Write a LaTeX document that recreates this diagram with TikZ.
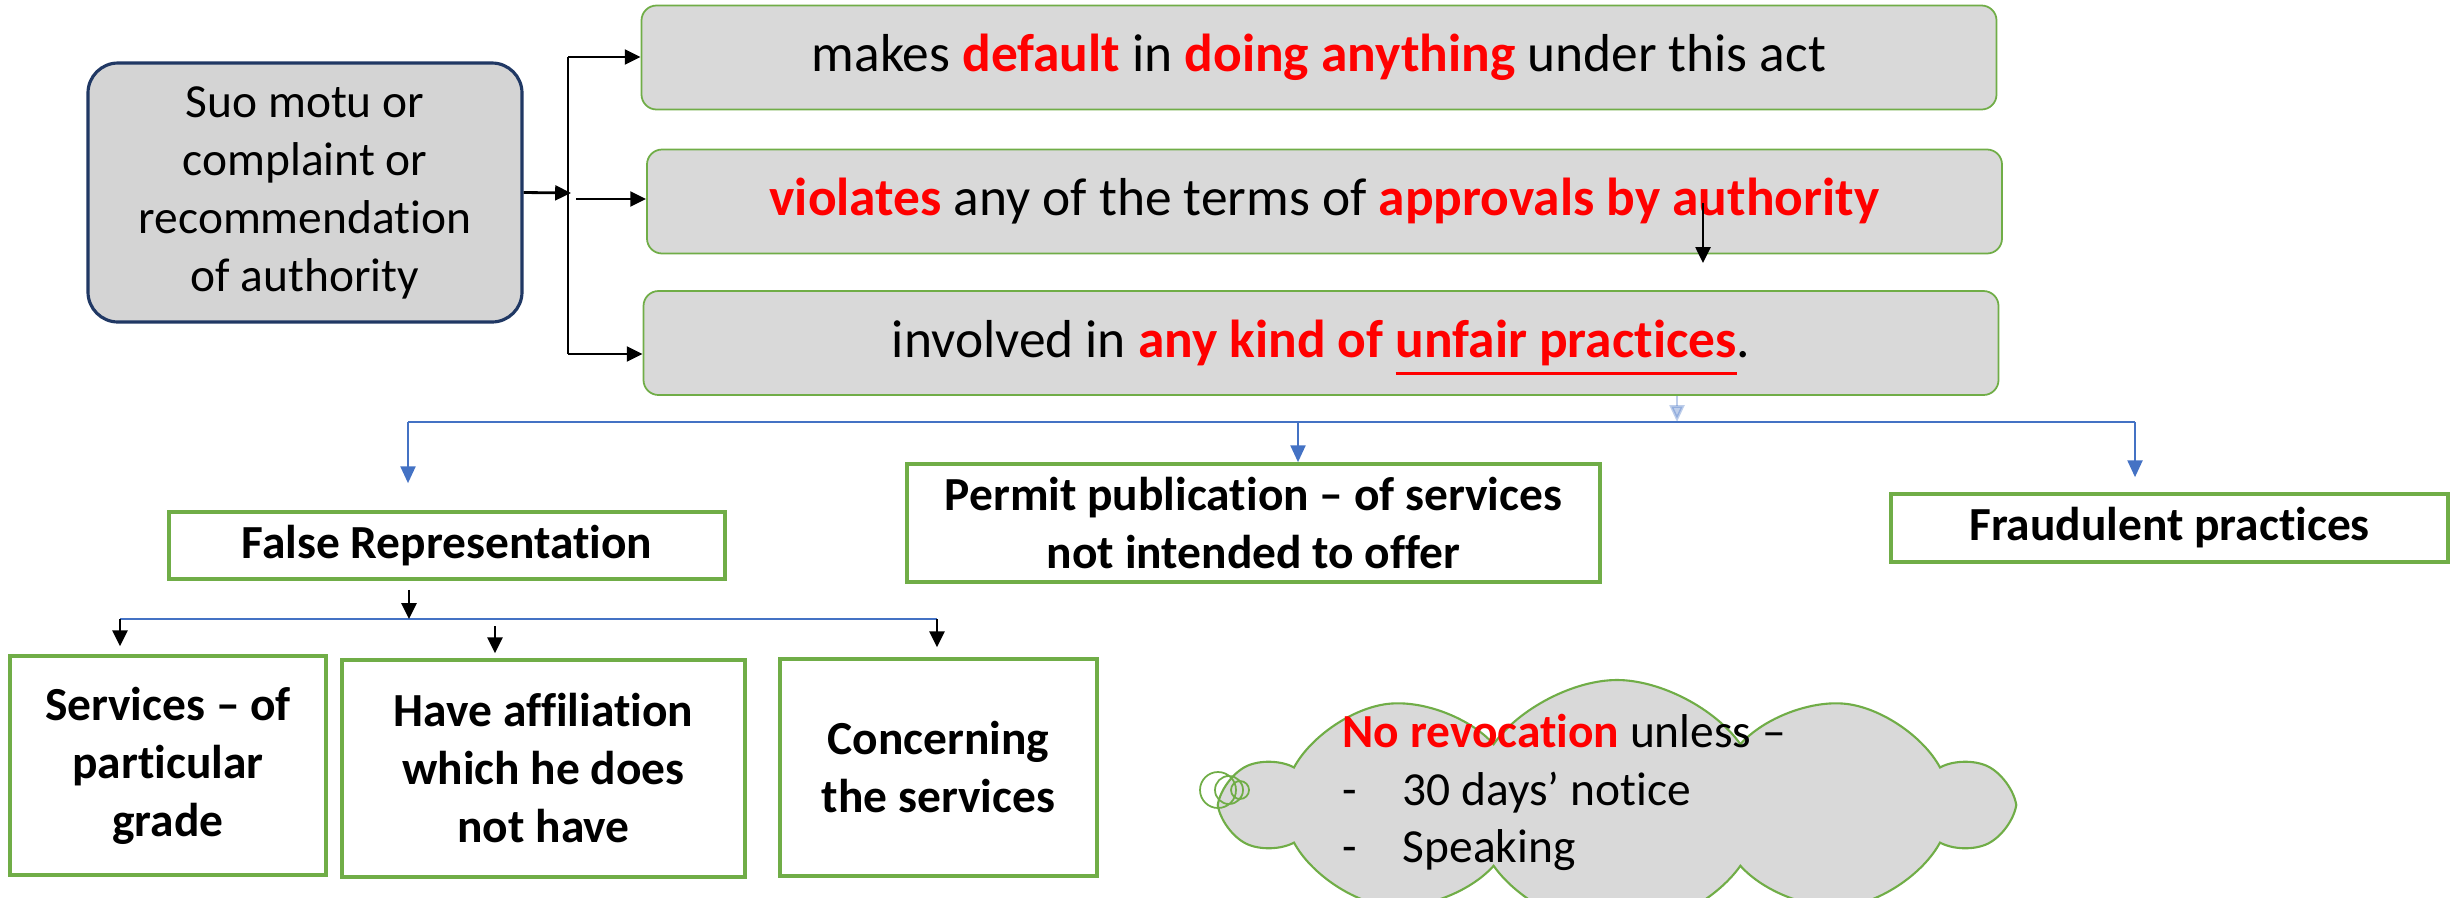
\documentclass[tikz,border=0pt]{standalone}
\usepackage{fontspec}
\setmainfont{Carlito}[Ligatures={TeX,NoCommon}]
\usetikzlibrary{arrows.meta,shapes.symbols,positioning}
\definecolor{Navy}{RGB}{32,56,100}
\definecolor{Leaf}{RGB}{112,173,71}
\definecolor{BoxGray}{RGB}{217,217,217}
\definecolor{SrcGray}{RGB}{212,212,212}
\definecolor{LinkBlue}{RGB}{68,114,196}
\definecolor{Alert}{RGB}{255,0,0}
\newcommand{\keyw}[1]{\textcolor{Alert}{\textbf{#1}}}
\newcommand{\uthick}[1]{\smash{\vtop{\hbox{#1}\kern1.6pt\hrule height .9pt}}}
\newcommand{\basefont}{\fontsize{13.5}{16.5}\selectfont}
\tikzset{
  srcbox/.style={rectangle,rounded corners=.3cm,draw=Navy,fill=SrcGray,
                 line width=.9pt,align=center,minimum width=4.34cm,minimum height=2.59cm},
  actbox/.style={rectangle,rounded corners=.15cm,draw=Leaf,fill=BoxGray,
                 font=\fontsize{15.2}{18}\selectfont,
                 line width=.5pt,minimum width=13.55cm,minimum height=1.04cm},
  kindbox/.style={rectangle,draw=Leaf,fill=white,line width=1pt,
                  font=\basefont\bfseries,align=center,inner sep=2pt},
  tedge/.style={-{Triangle[length=4.5pt,width=4.2pt]},black,line width=.8pt},
  bedge/.style={-{Triangle[length=4.8pt,width=4.2pt]},LinkBlue,line width=.8pt},
  bus/.style={LinkBlue,line width=.8pt},
}
\begin{document}
\begin{tikzpicture}[font=\basefont]
\useasboundingbox (0,0) rectangle (24.5,-8.97);

% who starts it
\node[srcbox] (src) at (3.05,-1.925) {Suo motu or\\complaint or\\recommendation\\of authority};

% grounds
\node[actbox] (dflt) at (13.19,-0.575) {makes \keyw{default} in \keyw{doing anything} under this act};
\node[actbox] (viol) at (13.245,-2.015) {\keyw{violates} any of the terms of \keyw{approvals by authority}};
\node[actbox] (unfr) at (13.21,-3.43) {involved in \keyw{any kind of \uthick{unfair practices}}.};

% bracket
\coordinate (jtop) at (5.68,-0.57);
\coordinate (jbot) at (5.68,-3.54);
\coordinate (jin) at (5.71,-1.93);
\coordinate (jmid) at (5.76,-1.99);
\draw[tedge] (src.east) -- (jin);
\draw[line width=.8pt] (jtop) -- (jbot);
\draw[tedge] (jtop) -- (jtop -| dflt.west);
\draw[tedge] (jmid) -- (jmid -| viol.west);
\draw[tedge] (jbot) -- (jbot -| unfr.west);

\coordinate (vs) at (17.03,-2.03);
\coordinate (ve) at (17.03,-2.63);
\draw[tedge] (vs) -- (ve);

% kinds of unfair practice
\node[kindbox,minimum width=5.56cm,minimum height=.67cm] (fals) at (4.47,-5.455) {False Representation};
\node[kindbox,minimum width=6.93cm,minimum height=1.18cm] (perm) at (12.535,-5.23) {Permit publication – of services\\not intended to offer};
\node[kindbox,minimum width=5.57cm,minimum height=.68cm] (frau) at (21.695,-5.28) {Fraudulent practices};

\coordinate (busl) at (4.08,-4.22);
\coordinate (busm) at (12.98,-4.22);
\coordinate (busf) at (16.77,-4.22);
\coordinate (busr) at (21.35,-4.22);
\draw[bus] (busl) -- (busr);
\draw[bedge,opacity=.35] (busf |- unfr.south) -- (busf);
\draw[bedge,shorten >=.27cm] (busl) -- (busl |- fals.north);
\draw[bedge] (busm) -- (busm |- perm.north);
\draw[bedge,shorten >=.15cm] (busr) -- (busr |- frau.north);

% false representation
\node[kindbox,minimum width=3.16cm,minimum height=2.19cm] (grad) at (1.68,-7.655) {Services – of\\particular\\grade};
\node[kindbox,minimum width=4.03cm,minimum height=2.17cm] (affl) at (5.435,-7.685) {Have affiliation\\which he does\\not have};
\node[kindbox,minimum width=3.17cm,minimum height=2.17cm] (conc) at (9.385,-7.675) {Concerning\\the services};

\coordinate (subl) at (1.20,-6.19);
\coordinate (subm) at (4.09,-6.19);
\coordinate (subr) at (9.37,-6.19);
\coordinate (suba) at (4.95,-6.26);
\draw[bus] (subl) -- (subr);
\draw[tedge,shorten <=.09cm] (subm |- fals.south) -- (subm);
\draw[tedge,shorten >=.08cm] (subl) -- (subl |- grad.north);
\draw[tedge,shorten >=.05cm] (suba) -- (suba |- affl.north);
\draw[tedge,shorten >=.1cm] (subr) -- (subr |- conc.north);

% revocation note
\node[cloud,cloud puffs=10,cloud puff arc=110,aspect=3,draw=Leaf,fill=BoxGray,
      line width=.6pt,minimum width=7.8cm,minimum height=2.5cm] (cld) at (16.17,-8.05) {};
\draw[Leaf,line width=.5pt] (12.18,-7.9) circle (.18) (12.29,-7.9) circle (.14) (12.40,-7.9) circle (.09);
\node[anchor=north west,align=left,inner sep=0pt] (note) at (13.42,-7.13)
  {\keyw{No revocation} unless –\\\makebox[.6cm][l]{-}30 days’ notice\\\makebox[.6cm][l]{-}Speaking};
\end{tikzpicture}
\end{document}
